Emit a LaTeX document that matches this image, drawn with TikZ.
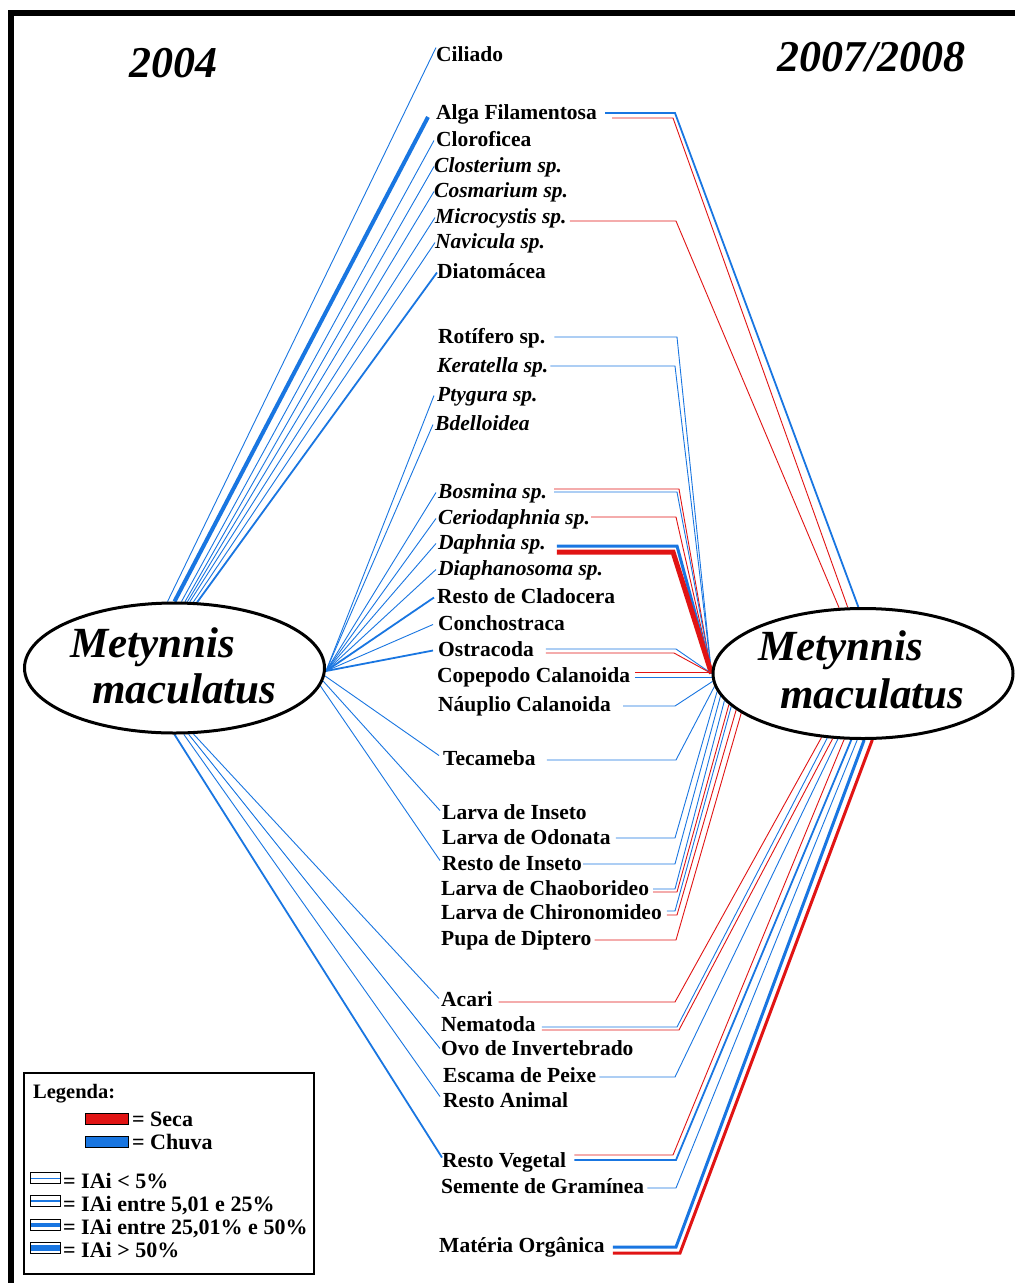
\documentclass[tikz,border=0pt]{standalone}
\usepackage{fontspec}
\setmainfont{Liberation Serif}
\usetikzlibrary{shapes.geometric,backgrounds}
\definecolor{chuva}{RGB}{25,118,225}
\definecolor{seca}{RGB}{225,20,20}
\begin{document}
\begin{tikzpicture}[x=1pt,y=-1pt,
  lab/.style={anchor=base west,inner sep=0pt,text height=15pt,text depth=4pt,font=\bfseries\fontsize{21.5}{24}\selectfont},
  labi/.style={lab,font=\bfseries\itshape\fontsize{21.5}{24}\selectfont},
  title/.style={anchor=base west,inner sep=0pt,font=\bfseries\itshape\fontsize{44}{50}\selectfont},
  fishname/.style={anchor=base west,inner sep=0pt,font=\bfseries\itshape\fontsize{43}{48}\selectfont},
  fish/.style={ellipse,draw,fill=white,line width=3pt,minimum width=300pt,minimum height=130pt,inner sep=0pt},
  legtxt/.style={anchor=base west,inner sep=0pt,font=\bfseries\fontsize{22}{24}\selectfont},
  swatch/.style={draw,line width=1.2pt,minimum width=43pt,minimum height=11pt,inner sep=0pt,anchor=north west},
  iai/.style={draw,line width=1.2pt,fill=white,minimum width=30pt,minimum height=11pt,inner sep=0pt,anchor=north west,
    path picture={\draw[chuva,line width=#1] (path picture bounding box.west) -- (path picture bounding box.east);}},
  b1/.style={draw=chuva,line width=0.9pt},
  b2/.style={draw=chuva,line width=1.8pt},
  b3/.style={draw=chuva,line width=3pt},
  b4/.style={draw=chuva,line width=4pt},
  r1/.style={draw=seca,line width=0.9pt},
  r3/.style={draw=seca,line width=3pt},
  r5/.style={draw=seca,line width=5pt}]

\useasboundingbox (0,0) rectangle (1015,1283);

% frame
\draw[line width=6pt] (10.5,1283) -- (10.5,13) -- (1015,13);

% period titles
\node[title] (t2004) at (129,77) {2004};
\node[title] (t2008) at (777,71) {2007/2008};

% the two fish ellipses
\node[fish] (L) at (174.5,668) {};
\node[fish] (R) at (863,673.5) {};
\node[fishname] (Lt1) at (70,657) {Metynnis};
\node[fishname] (Lt2) at (92,703) {maculatus};
\node[fishname] (Rt1) at (758,660) {Metynnis};
\node[fishname] (Rt2) at (780,708) {maculatus};

% food items (baseline = centre + 6)
\node[lab]  (ciliado)      at (436,61)   {Ciliado};
\node[lab]  (alga)         at (436,119)  {Alga Filamentosa};
\node[lab]  (cloro)        at (436,146)  {Cloroficea};
\node[labi] (closterium)   at (434,172)  {Closterium sp.};
\node[labi] (cosmarium)    at (434,197)  {Cosmarium sp.};
\node[labi] (microcystis)  at (435,223)  {Microcystis sp.};
\node[labi] (navicula)     at (435,248)  {Navicula sp.};
\node[lab]  (diatomacea)   at (437,278)  {Diatomácea};
\node[lab]  (rotifero)     at (438,343)  {Rotífero sp.};
\node[labi] (keratella)    at (437,372)  {Keratella sp.};
\node[labi] (ptygura)      at (437,401)  {Ptygura sp.};
\node[labi] (bdelloidea)   at (435,430)  {Bdelloidea};
\node[labi] (bosmina)      at (438,498)  {Bosmina sp.};
\node[labi] (cerio)        at (438,524)  {Ceriodaphnia sp.};
\node[labi] (daphnia)      at (438,549)  {Daphnia sp.};
\node[labi] (diaphanosoma) at (438,575)  {Diaphanosoma sp.};
\node[lab]  (cladocera)    at (437,603)  {Resto de Cladocera};
\node[lab]  (conchostraca) at (438,630)  {Conchostraca};
\node[lab]  (ostracoda)    at (438,656)  {Ostracoda};
\node[lab]  (copepodo)     at (437,682)  {Copepodo Calanoida};
\node[lab]  (nauplio)      at (438,711)  {Náuplio Calanoida};
\node[lab]  (tecameba)     at (443,765)  {Tecameba};
\node[lab]  (linseto)      at (442,819)  {Larva de Inseto};
\node[lab]  (odonata)      at (442,844)  {Larva de Odonata};
\node[lab]  (rinseto)      at (442,870)  {Resto de Inseto};
\node[lab]  (chaob)        at (441,895)  {Larva de Chaoborideo};
\node[lab]  (chiron)       at (441,919)  {Larva de Chironomideo};
\node[lab]  (pupa)         at (441,945)  {Pupa de Diptero};
\node[lab]  (acari)        at (441,1006) {Acari};
\node[lab]  (nematoda)     at (441,1031) {Nematoda};
\node[lab]  (ovo)          at (441,1055) {Ovo de Invertebrado};
\node[lab]  (escama)       at (443,1082) {Escama de Peixe};
\node[lab]  (ranimal)      at (443,1107) {Resto Animal};
\node[lab]  (rvegetal)     at (442,1167) {Resto Vegetal};
\node[lab]  (semente)      at (441,1193) {Semente de Gramínea};
\node[lab]  (materia)      at (439,1252) {Matéria Orgânica};

% legend
\node (legend) [draw,line width=2pt,minimum width=290pt,minimum height=201pt,inner sep=0pt,anchor=north west] at (23,1072) {};
\node[anchor=base west,inner sep=0pt,font=\bfseries\fontsize{20.5}{22}\selectfont] (legtitle) at (33,1098) {Legenda:};
\node[swatch,fill=seca]  (swseca)  at (85,1113) {};
\node[legtxt] (txseca)  at (132,1126) {= Seca};
\node[swatch,fill=chuva] (swchuva) at (85,1136) {};
\node[legtxt] (txchuva) at (132,1149) {= Chuva};
\node[iai=1pt]   (ia1) at (30,1172) {};
\node[iai=2pt]   (ia2) at (30,1195) {};
\node[iai=3.5pt] (ia3) at (30,1219) {};
\node[iai=5.5pt] (ia4) at (30,1242) {};
\node[legtxt] (tx1) at (63,1188) {= IAi < 5\%};
\node[legtxt] (tx2) at (63,1211) {= IAi entre 5,01 e 25\%};
\node[legtxt] (tx3) at (63,1234) {= IAi entre 25,01\% e 50\%};
\node[legtxt] (tx4) at (63,1257) {= IAi > 50\%};

\begin{scope}[on background layer]
\fill[white] (0,0) rectangle (1015,1283);

% ---- 2004 (left fish) ----
\draw[b1] (L.96) -- ([yshift=8pt]ciliado.west);
\draw[b4] (L.90) -- ([xshift=-8pt,yshift=-3.5pt]alga.west);
\draw[b1] (L.84) -- ([xshift=-2pt]cloro.west);
\draw[b1] (L.81) -- (closterium.west);
\draw[b1] (L.79) -- (cosmarium.west);
\draw[b1] (L.77) -- (microcystis.west);
\draw[b1] (L.74) -- (navicula.west);
\draw[b2] (L.71) -- (diatomacea.west);

\coordinate (Lhub) at ([yshift=-3pt]L.east);
\draw[b1] (Lhub) -- ([xshift=-3pt]ptygura.west);
\draw[b1] (Lhub) -- ([xshift=-2pt]bdelloidea.west);
\draw[b1] (Lhub) -- ([xshift=-2pt]bosmina.west);
\draw[b1] (Lhub) -- ([xshift=-2pt]cerio.west);
\draw[b1] (Lhub) -- ([xshift=-2pt]daphnia.west);
\draw[b1] (Lhub) -- ([xshift=-2pt]diaphanosoma.west);
\draw[b2] (Lhub) -- ([xshift=-3pt]cladocera.west);
\draw[b1] (Lhub) -- ([xshift=-5pt]conchostraca.west);
\draw[b2] (Lhub) -- ([xshift=-5pt]ostracoda.west);

\draw[b1] (L.357) -- ([xshift=-4pt,yshift=4pt]tecameba.west);
\draw[b1] (L.355) -- ([xshift=-2pt,yshift=3pt]linseto.west);
\draw[b1] (L.353) -- ([xshift=-2pt,yshift=4pt]rinseto.west);

\draw[b1] (L.286) -- ([xshift=-2pt,yshift=2pt]acari.west);
\draw[b1] (L.282) -- ([xshift=-1pt,yshift=1pt]ovo.west);
\draw[b1] (L.278) -- ([xshift=-3pt,yshift=5pt]ranimal.west);
\draw[b2] (L.270) -- ([xshift=0pt,yshift=4pt]rvegetal.west);

% ---- 2007/2008 (right fish) ----
\draw[b2] ([xshift=8pt,yshift=0.5pt]alga.east) -- (675,113) -- (R.94);
\draw[r1] ([xshift=15pt,yshift=-4.5pt]alga.east) -- (673,118) -- (R.103);
\draw[r1] ([xshift=3pt,yshift=-3.5pt]microcystis.east) -- (676,221) -- (R.110);

\draw[b1] ([xshift=9pt,yshift=0.5pt]rotifero.east) -- (677,337) -- (R.180);
\draw[b1] ([xshift=2pt,yshift=0.5pt]keratella.east) -- (675,366) -- (R.180);
\draw[r1] ([xshift=7pt,yshift=3.5pt]bosmina.east) -- (679,489) -- (R.180);
\draw[b1] ([xshift=7pt,yshift=0.5pt]bosmina.east) -- (677,492) -- (R.180);
\draw[r1] ([xshift=1pt,yshift=1.5pt]cerio.east) -- (676,517) -- (R.180);
\draw[b3] ([xshift=11pt,yshift=-2.5pt]daphnia.east) -- (677,546) -- (R.180);
\draw[r5] ([xshift=11pt,yshift=-8.5pt]daphnia.east) -- (673,552) -- (R.180);
\draw[b1] ([xshift=12pt,yshift=1.5pt]ostracoda.east) -- (676,649) -- (R.180);
\draw[r1] ([xshift=12pt,yshift=-2.5pt]ostracoda.east) -- (674,653) -- (R.180);
\draw[r1] ([xshift=5pt,yshift=4.5pt]copepodo.east) -- ([yshift=1.5pt]R.west);
\draw[b1] ([xshift=5pt,yshift=-0.5pt]copepodo.east) -- ([yshift=-3.5pt]R.west);
\draw[b1] ([xshift=12pt,yshift=-0.5pt]nauplio.east) -- (675,706) -- (R.183);
\draw[b1] ([xshift=11pt,yshift=-0.5pt]tecameba.east) -- (676,760) -- (R.185);
\draw[b1] ([xshift=5pt,yshift=0.5pt]odonata.east) -- (675,838) -- (R.187);
\draw[b1] ([xshift=1pt,yshift=0.5pt]rinseto.east) -- (675,864) -- (R.189);
\draw[b1] ([xshift=4pt,yshift=0.5pt]chaob.east) -- (675,889) -- (R.191);
\draw[r1] ([xshift=4pt,yshift=-2.5pt]chaob.east) -- (677,892) -- (R.193);
\draw[b1] ([xshift=5pt,yshift=2.5pt]chiron.east) -- (675,911) -- (R.194);
\draw[r1] ([xshift=5pt,yshift=-1.5pt]chiron.east) -- (677,915) -- (R.196);
\draw[r1] ([xshift=3pt,yshift=-0.5pt]pupa.east) -- (676,940) -- (R.198);

\draw[r1] ([xshift=6pt,yshift=-1.5pt]acari.east) -- (675,1002) -- (R.237);
\draw[b1] ([xshift=6pt,yshift=-1.5pt]nematoda.east) -- (677,1027) -- (R.241);
\draw[r1] ([xshift=6pt,yshift=-4.5pt]nematoda.east) -- (679,1030) -- (R.245);
\draw[b1] ([xshift=3pt,yshift=-0.5pt]escama.east) -- (675,1077) -- (R.249);
\draw[r1] ([xshift=8pt,yshift=6.5pt]rvegetal.east) -- (673,1155) -- (R.254);
\draw[b2] ([xshift=8pt,yshift=1.5pt]rvegetal.east) -- (676,1160) -- (R.260);
\draw[b1] ([xshift=3pt,yshift=-0.5pt]semente.east) -- (676,1188) -- (R.265);
\draw[b3] ([xshift=8pt,yshift=-0.5pt]materia.east) -- (676,1247) -- (R.271);
\draw[r3] ([xshift=8pt,yshift=-6.5pt]materia.east) -- (680,1253) -- (R.278);
\end{scope}
\end{tikzpicture}
\end{document}
